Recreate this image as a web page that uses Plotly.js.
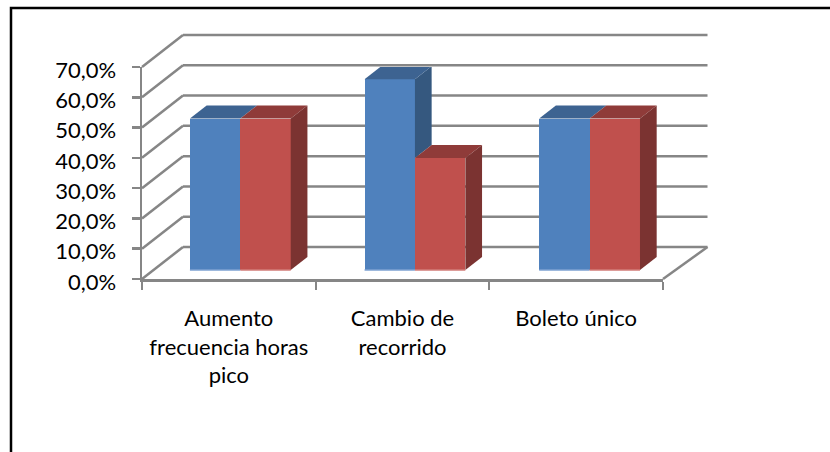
<!DOCTYPE html>
<html><head><meta charset="utf-8">
<script src="https://cdn.plot.ly/plotly-3.0.1.min.js"></script>
<style>html,body{margin:0;padding:0;background:#fff;overflow:hidden}</style>
</head><body><div id="chart" style="width:830px;height:452px"></div>
<script>
const categories = ['Aumento<br>frecuencia horas<br>pico', 'Cambio de<br>recorrido', 'Boleto único'];
const seriesNames = ['Sí', 'No'];
const si = [50, 63, 50];
const no = [50, 37, 50];
const yTicks = [0, 10, 20, 30, 40, 50, 60, 70];
const yTickText = ['0,0%', '10,0%', '20,0%', '30,0%', '40,0%', '50,0%', '60,0%', '70,0%'];

const W = 830, H = 452;
const L = 142, R = 663, T = 67, B = 279;
const pxX = (R - L) / 3, pxY = (B - T) / 70;
const wallDX = 41 / pxX, wallDY = 32 / pxY, wallRightDX = 44.5 / pxX;
const barW = 50.4 / pxX, barDX = 16.7 / pxX, barDY = 13 / pxY;
const floorY = 9 / pxY;
const gray = '#868686';
const px = x => x / 3, py = y => y / 70;

const face = {blue: '#4F81BD', blueTop: '#3D6391', blueSide: '#35587F', red: '#C0504D', redTop: '#8F3B39', redSide: '#7B3331'};
const left = i => 0.276 + i * 1.0055;

function poly(xs, ys, color) {
  return {type: 'scatter', mode: 'lines', x: xs.concat(xs[0]), y: ys.concat(ys[0]), fill: 'toself', fillcolor: color,
    line: {width: 0, color: color}, hoverinfo: 'skip', showlegend: false, cliponaxis: false};
}

const traces = [];
[[si, face.blue, 0], [no, face.red, 1]].forEach(([vals, color, k], s) => {
  traces.push({type: 'bar', name: seriesNames[s], x: vals.map((_, i) => left(i) + barW * (k + 0.5)), y: vals,
    base: vals.map(() => floorY), width: barW, marker: {color: color, line: {width: 0}}, cliponaxis: false, showlegend: false});
});
si.forEach((v, i) => {
  const x0 = left(i), x1 = x0 + barW, x2 = x1 + barW, n = no[i];
  const tv = v + floorY, tn = n + floorY;
  if (v > n) traces.push(poly([x1, x1 + barDX, x1 + barDX, x1], [tv, tv + barDY, tn + barDY, tn], face.blueSide));
  traces.push(poly([x0, x1, x1 + barDX, x0 + barDX], [tv, tv, tv + barDY, tv + barDY], face.blueTop));
  traces.push(poly([x1, x2, x2 + barDX, x1 + barDX], [tn, tn, tn + barDY, tn + barDY], face.redTop));
  traces.push(poly([x2, x2 + barDX, x2 + barDX, x2], [floorY, floorY + barDY, tn + barDY, tn], face.redSide));
  traces.push({type: 'scatter', mode: 'lines', x: [x0, x1], y: [floorY, floorY], line: {color: '#7EA2D2', width: 1.5}, hoverinfo: 'skip', showlegend: false, cliponaxis: false});
  traces.push({type: 'scatter', mode: 'lines', x: [x1, x2], y: [floorY, floorY], line: {color: '#D27C79', width: 1.5}, hoverinfo: 'skip', showlegend: false, cliponaxis: false});
});
const legX = (765 - L) / pxX;
[[seriesNames[0], (279 - 180) / pxY, face.blue], [seriesNames[1], (279 - 255) / pxY, face.red]].forEach(([name, y, color]) => {
  traces.push({type: 'scatter', mode: 'markers+text', x: [legX], y: [y], text: [name], textposition: 'middle right',
    marker: {symbol: 'square', size: 14, color: color}, textfont: {family: 'Lato', size: 22, color: '#000'},
    hoverinfo: 'skip', showlegend: false, cliponaxis: false});
});

const wallShapes = [];
const line = (x0, y0, x1, y1, w) => ({type: 'line', layer: 'below', xref: 'paper', yref: 'paper', x0: px(x0), y0: py(y0), x1: px(x1), y1: py(y1), line: {color: gray, width: w || 2.5}});
yTicks.forEach(t => {
  wallShapes.push(line(0, t, wallDX, t + wallDY));
  wallShapes.push(line(wallDX, t + wallDY, 3 + wallRightDX, t + wallDY));
});
wallShapes.push(line(3, 0, 3 + wallRightDX, wallDY));
const plotW = R - L, plotH = B - T;
wallShapes.push({type: 'rect', layer: 'above', xref: 'paper', yref: 'paper',
  x0: (11 - L) / plotW, x1: (W + 20 - L) / plotW, y0: (B - (H + 20)) / plotH, y1: (B - 8) / plotH,
  line: {color: '#000', width: 2.5}, fillcolor: 'rgba(0,0,0,0)'});

const layout = {
  width: W, height: H, showlegend: false, paper_bgcolor: '#fff', plot_bgcolor: 'rgba(0,0,0,0)',
  font: {family: 'Lato', size: 22, color: '#000'},
  margin: {l: L, r: W - R, t: T, b: H - B, pad: 0},
  bargap: 0, barmode: 'overlay',
  xaxis: {range: [0, 3], tickmode: 'array', tickvals: [0.5, 1.5, 2.5], ticktext: categories, ticks: '', showgrid: false, zeroline: false,
    showline: true, linecolor: gray, linewidth: 2.5, ticklabelstandoff: 18,
    minor: {tickmode: 'array', tickvals: [0, 1, 2, 3], ticks: 'outside', ticklen: 8, tickwidth: 2, tickcolor: gray, showgrid: false}},
  yaxis: {range: [0, 70], tickmode: 'array', tickvals: yTicks, ticktext: yTickText, ticks: 'outside', ticklen: 8, tickwidth: 2.5, tickcolor: gray,
    showgrid: false, zeroline: false, showline: true, linecolor: gray, linewidth: 2.5, ticklabelstandoff: 11, ticklabelshift: 3},
  shapes: wallShapes
};
Plotly.newPlot('chart', traces, layout, {displayModeBar: false, staticPlot: true});
</script></body></html>
